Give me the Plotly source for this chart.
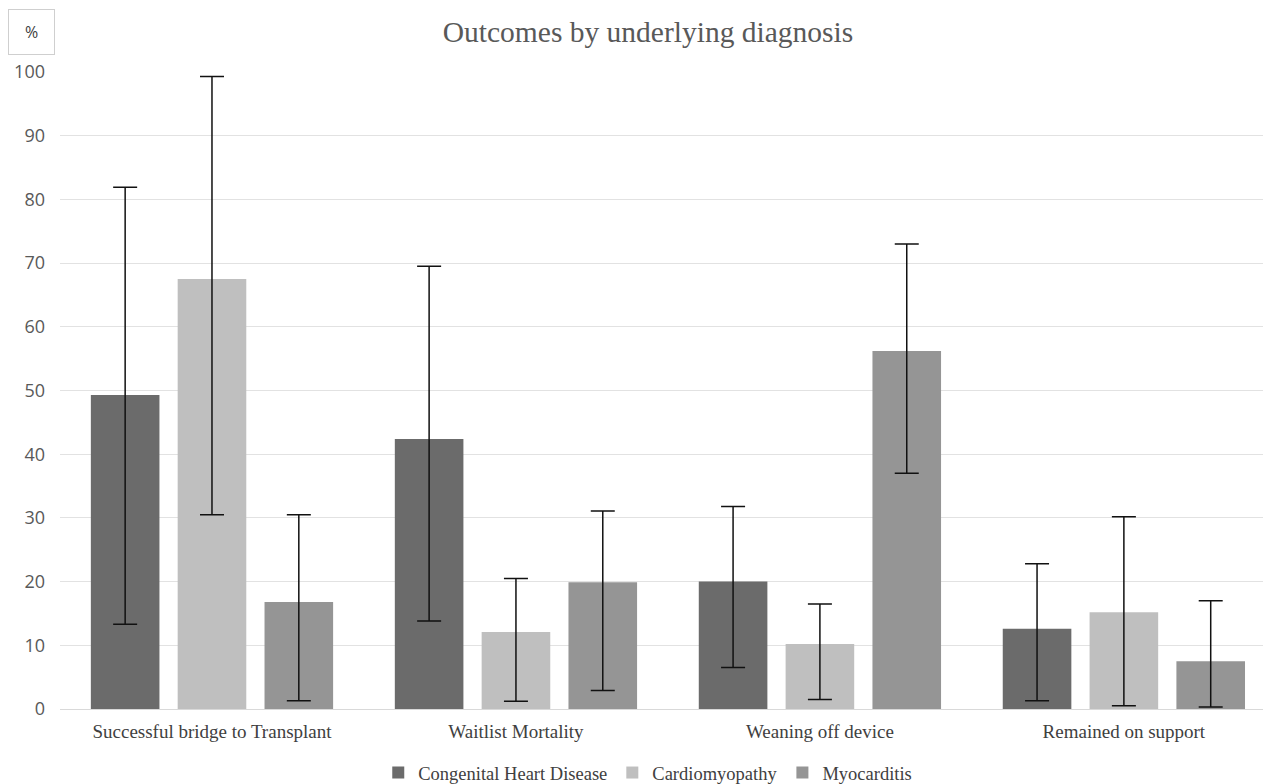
import plotly.graph_objects as go

categories = ["Successful bridge to Transplant", "Waitlist Mortality", "Weaning off device", "Remained on support"]
series_names = ["Congenital Heart Disease", "Cardiomyopathy", "Myocarditis"]
values = {
    "Congenital Heart Disease": [49.3, 42.4, 20.0, 12.6],
    "Cardiomyopathy": [67.5, 12.1, 10.2, 15.2],
    "Myocarditis": [16.8, 19.9, 56.2, 7.5],
}
upper = {
    "Congenital Heart Disease": [81.9, 69.5, 31.8, 22.8],
    "Cardiomyopathy": [99.3, 20.5, 16.5, 30.2],
    "Myocarditis": [30.5, 31.1, 73.0, 17.0],
}
lower = {
    "Congenital Heart Disease": [13.3, 13.8, 6.5, 1.3],
    "Cardiomyopathy": [30.5, 1.2, 1.5, 0.5],
    "Myocarditis": [1.3, 2.9, 37.0, 0.3],
}
colors = {
    "Congenital Heart Disease": "#6b6b6b",
    "Cardiomyopathy": "#bfbfbf",
    "Myocarditis": "#959595",
}
y_ticks = list(range(0, 101, 10))

# page body has an 8px margin, so the figure is offset by 8px
OFF = 8
W, H = 1271 - OFF, 784 - OFF
L, R, T, B = 60 - OFF, 0, 72 - OFF, 75
pw, ph = W - L - R, H - T - B

fig = go.Figure()
for name in series_names:
    v = values[name]
    fig.add_trace(go.Bar(
        x=categories, y=v, name=name,
        marker=dict(color=colors[name], line=dict(width=0)),
        error_y=dict(
            type="data", symmetric=False,
            array=[u - a for u, a in zip(upper[name], v)],
            arrayminus=[a - l for a, l in zip(v, lower[name])],
            color="#111111", thickness=1.5, width=12,
        ),
    ))

fig.update_layout(
    width=W, height=H,
    paper_bgcolor="white", plot_bgcolor="white",
    margin=dict(l=L, r=R, t=T, b=B, autoexpand=False),
    barmode="group", bargap=0.143, bargroupgap=0.21,
    title=dict(text="Outcomes by underlying diagnosis", x=(648 - OFF) / W, xanchor="center",
               y=1 - (32 - OFF) / H, yanchor="middle", yref="container",
               font=dict(family="Liberation Serif", size=29.5, color="#595959")),
    xaxis=dict(showgrid=False, showline=True, linecolor="#d9d9d9", linewidth=1,
               range=[-0.5, 3.484], automargin=False,
               tickfont=dict(family="Liberation Serif", size=19, color="#404040"),
               ticks="", ticklabelstandoff=5),
    yaxis=dict(range=[0, 100], tickvals=y_ticks, showgrid=True, gridcolor="#e2e2e2",
               gridwidth=1, zeroline=False, ticks="", showline=False, automargin=False,
               ticklabelstandoff=14,
               tickfont=dict(family="Open Sans", size=18, color="#595959")),
    legend=dict(orientation="h", x=(621 - OFF) / W, xanchor="center", yref="container",
                y=1 - (773 - OFF) / H, yanchor="middle",
                font=dict(family="Liberation Serif", size=18.5, color="#404040"),
                itemwidth=30, traceorder="normal"),
    annotations=[dict(text="%", xref="paper", yref="paper", x=(31.5 - 60) / pw,
                      y=1 + (72 - 32) / ph, xanchor="center", yanchor="middle", showarrow=False,
                      width=39, height=38, borderpad=3,
                      font=dict(family="Open Sans", size=16, color="#404040"),
                      bordercolor="#cfcfcf", borderwidth=1, bgcolor="white")],
)

fig.write_html("out.html")
